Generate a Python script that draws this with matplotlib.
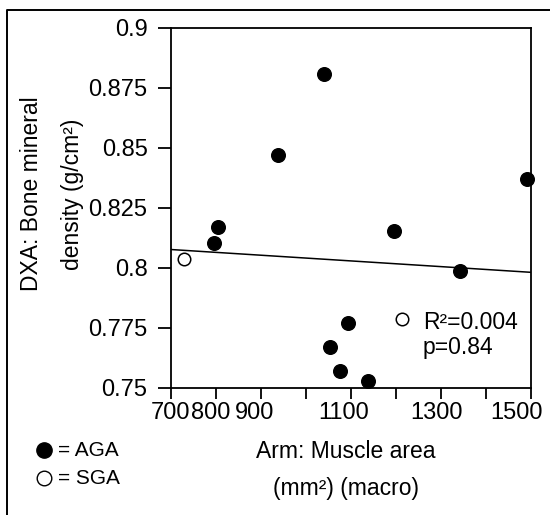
import matplotlib
matplotlib.use("Agg")
import matplotlib.pyplot as plt
from matplotlib.lines import Line2D
from matplotlib.ticker import FuncFormatter
from matplotlib.transforms import ScaledTranslation

plt.rcParams["font.family"] = ["Liberation Sans", "DejaVu Sans"]

# values
aga_x = [1040, 937, 1492, 804, 795, 1196, 1343, 1094, 1053, 1076, 1138]
aga_y = [0.881, 0.847, 0.837, 0.817, 0.8104, 0.8154, 0.7988, 0.7771, 0.767, 0.757, 0.753]
sga_x = [728, 1214]
sga_y = [0.8036, 0.7787]
fit_x = [700, 1500]
fit_y = [0.8077, 0.7982]

x_ticks = [700, 800, 900, 1000, 1100, 1200, 1300, 1400, 1500]
x_tick_labels = ["700", "800", "900", "", "1100", "", "1300", "", "1500"]
y_ticks = [0.75, 0.775, 0.8, 0.825, 0.85, 0.875, 0.9]

stats_text = "R²=0.004\np=0.84"
x_label = "Arm: Muscle area\n(mm²) (macro)"
y_label = "DXA: Bone mineral\ndensity (g/cm²)"

# the source figure nudges its x tick labels to the left (pixels)
x_label_shift = [0, -5, -6, 0, -7, 0, -4, 0, -15]

W, H = 550, 515
fig = plt.figure(figsize=(W / 100, H / 100), dpi=100)
ax = fig.add_axes([171 / W, 1 - 388 / H, 360 / W, 360 / H])

ax.plot(fit_x, fit_y, color="black", linewidth=1.1, zorder=2)
ax.plot(aga_x, aga_y, linestyle="none", marker="o", markersize=9.8,
        color="black", clip_on=False, zorder=3)
ax.plot(sga_x, sga_y, linestyle="none", marker="o", markersize=9.0,
        markerfacecolor="white", markeredgecolor="black", markeredgewidth=1.1,
        clip_on=False, zorder=3)

ax.set_xlim(700, 1500)
ax.set_ylim(0.75, 0.9)
ax.set_xticks(x_ticks)
ax.set_xticklabels(x_tick_labels)
ax.set_yticks(y_ticks)
ax.yaxis.set_major_formatter(FuncFormatter(lambda v, _: f"{v:g}"))
ax.tick_params(axis="y", length=9.4, width=1.3, pad=7.5, labelsize=17)
ax.tick_params(axis="x", length=8, width=1.3, pad=2, labelsize=17)
for sp in ax.spines.values():
    sp.set_linewidth(1.3)

for lab, dx in zip(ax.get_xticklabels(), x_label_shift):
    lab.set_transform(lab.get_transform() + ScaledTranslation(dx / 100, 0, fig.dpi_scale_trans))

ax.text(0.699, 0.147, stats_text, transform=ax.transAxes, fontsize=16.5,
        ha="left", va="center", linespacing=1.1)

fig.text(346 / W, 1 - 470 / H, x_label, fontsize=16.5, ha="center", va="center",
         linespacing=1.75)
fig.text(52 / W, 1 - 194 / H, y_label, fontsize=16.5, ha="center", va="center",
         rotation=90, linespacing=2.0)

# manual key under the y axis
fig.add_artist(Line2D([44 / W], [1 - 450 / H], marker="o", markersize=11,
                      color="black", linestyle="none"))
fig.add_artist(Line2D([44 / W], [1 - 478 / H], marker="o", markersize=10.5,
                      markerfacecolor="white", markeredgecolor="black",
                      markeredgewidth=1.0, linestyle="none"))
fig.text(58 / W, 1 - 450 / H, "= AGA", fontsize=15, ha="left", va="center")
fig.text(58 / W, 1 - 478 / H, "= SGA", fontsize=15, ha="left", va="center")

# partial frame: left and top edges only
fig.add_artist(Line2D([7 / W, 7 / W, 1.0], [0.0, 1 - 10 / H, 1 - 10 / H],
                      color="black", linewidth=1.4))

fig.savefig("out.png", dpi=100)
